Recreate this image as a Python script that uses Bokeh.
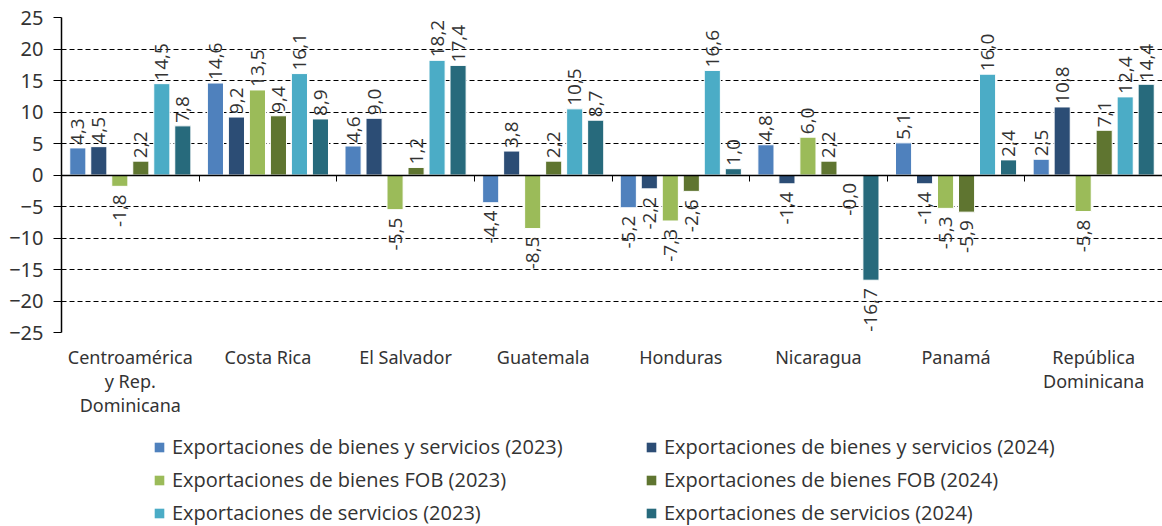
import math
from bokeh.plotting import figure
from bokeh.layouts import column
from bokeh.models import (Range1d, FixedTicker, LinearAxis, Legend, LegendItem,
                          ColumnDataSource)
from bokeh.core.properties import value
from bokeh.embed import file_html
from bokeh.resources import INLINE

categories = ["Centroamérica\ny Rep.\nDominicana", "Costa Rica", "El Salvador",
              "Guatemala", "Honduras", "Nicaragua", "Panamá", "República\nDominicana"]
series_names = ["Exportaciones de bienes y servicios (2023)",
                "Exportaciones de bienes y servicios (2024)",
                "Exportaciones de bienes FOB (2023)",
                "Exportaciones de bienes FOB (2024)",
                "Exportaciones de servicios (2023)",
                "Exportaciones de servicios (2024)"]
colors = ["#4F81BD", "#2C4D75", "#9BBB59", "#5F7530", "#4BACC6", "#276A7C"]

bys_2023 = [4.3, 14.6, 4.6, -4.4, -5.2, 4.8, 5.1, 2.5]
bys_2024 = [4.5, 9.2, 9.0, 3.8, -2.2, -1.4, -1.4, 10.8]
fob_2023 = [-1.8, 13.5, -5.5, -8.5, -7.3, 6.0, -5.3, -5.8]
fob_2024 = [2.2, 9.4, 1.2, 2.2, -2.6, 2.2, -5.9, 7.1]
serv_2023 = [14.5, 16.1, 18.2, 10.5, 16.6, -0.0, 16.0, 12.4]
serv_2024 = [7.8, 8.9, 17.4, 8.7, 1.0, -16.7, 2.4, 14.4]
series_values = [bys_2023, bys_2024, fob_2023, fob_2024, serv_2023, serv_2024]
y_ticks = [-25, -20, -15, -10, -5, 0, 5, 10, 15, 20, 25]

TXT = "#333333"
n = len(categories)
pitch = 0.1526
bar_w = 0.117

p = figure(width=1162, height=425, output_backend="svg", toolbar_location=None,
           x_range=Range1d(0, n), y_range=Range1d(-25, 25),
           min_border_left=61, min_border_right=0, min_border_top=17,
           min_border_bottom=93)
p.outline_line_color = None
p.background_fill_color = "white"
p.xgrid.grid_line_color = None
p.ygrid.ticker = FixedTicker(ticks=y_ticks)
p.ygrid.grid_line_color = "black"
p.ygrid.grid_line_dash = "5 3"
p.ygrid.grid_line_width = 1

# y axis
p.yaxis.ticker = FixedTicker(ticks=y_ticks)
p.yaxis.axis_line_color = "black"
p.yaxis.axis_line_width = 1.5
p.yaxis.major_tick_out = 8
p.yaxis.major_tick_in = 0
p.yaxis.major_tick_line_color = "black"
p.yaxis.minor_tick_line_color = None
p.yaxis.major_label_text_font = "Noto Sans"
p.yaxis.major_label_text_font_size = "20px"
p.yaxis.major_label_text_color = TXT
p.yaxis.major_label_standoff = 10

# category axis
p.xaxis.ticker = FixedTicker(ticks=[i + 0.5 for i in range(n)])
p.xaxis.major_label_overrides = {i + 0.5: c for i, c in enumerate(categories)}
p.xaxis.axis_line_color = None
p.xaxis.major_tick_line_color = None
p.xaxis.minor_tick_line_color = None
p.xaxis.major_label_text_font = "Noto Sans"
p.xaxis.major_label_text_font_size = "18px"
p.xaxis.major_label_text_color = TXT
p.xaxis.major_label_text_line_height = 1.0
p.xaxis.major_label_standoff = 6

# zero axis with category boundary ticks
zero_axis = LinearAxis(fixed_location=0, ticker=FixedTicker(ticks=list(range(1, n))),
                       axis_line_color="black", axis_line_width=1.5,
                       major_tick_out=6, major_tick_in=0, major_tick_line_color="black",
                       minor_tick_line_color=None, major_label_text_font_size="0px",
                       major_label_standoff=0)
p.add_layout(zero_axis, "below")

sources = []
lx, ly, lt, la, lo = [], [], [], [], []
for j, vals in enumerate(series_values):
    off = (j - 2.5) * pitch
    xs = [i + 0.5 + off for i in range(n)]
    src = ColumnDataSource(dict(x=xs, top=vals))
    sources.append(src)
    p.vbar(x="x", top="top", bottom=0, width=bar_w, source=src,
           fill_color=colors[j], line_color="white", line_width=1)
    for x, v in zip(xs, vals):
        neg = math.copysign(1, v) < 0
        lx.append(x)
        ly.append(v)
        lt.append(f"{v:.1f}".replace(".", ","))
        la.append("right" if neg else "left")
        lo.append(8 if neg else -3)

lsrc = ColumnDataSource(dict(x=lx, y=ly, text=lt, align=la, yo=lo))
p.text(x="x", y="y", text="text", source=lsrc, angle=math.pi / 2,
       text_align="align", text_baseline="middle", y_offset="yo",
       text_font=value("Open Sans"), text_font_size="19px", text_color=TXT)

# legend figure (its view ranges lie away from the bars, only the legend shows)
lf = figure(width=1162, height=101, output_backend="svg", toolbar_location=None,
            x_range=Range1d(n + 100, n + 101), y_range=Range1d(1000, 1001),
            x_axis_location=None, y_axis_location=None,
            min_border_left=0, min_border_right=0, min_border_top=0, min_border_bottom=0)
lf.outline_line_color = None
lf.xgrid.grid_line_color = None
lf.ygrid.grid_line_color = None
lrs = []
for j in range(6):
    lrs.append(lf.vbar(x="x", top="top", bottom=0, width=bar_w, source=sources[j],
                       fill_color=colors[j], line_color=None))

def make_legend(idx, x):
    return Legend(items=[LegendItem(label=series_names[k], renderers=[lrs[k]]) for k in idx],
                  location=(x, 0), orientation="vertical",
                  border_line_color=None, background_fill_alpha=0,
                  padding=0, margin=0, spacing=6,
                  label_height=24, glyph_width=12, glyph_height=12, label_standoff=7,
                  label_text_font="Open Sans", label_text_font_size="20px",
                  label_text_color=TXT)

lf.add_layout(make_legend([0, 2, 4], 92), "center")
lf.add_layout(make_legend([1, 3, 5], 584), "center")

layout = column(p, lf, spacing=0)
open("out.html", "w").write(file_html(layout, INLINE))
